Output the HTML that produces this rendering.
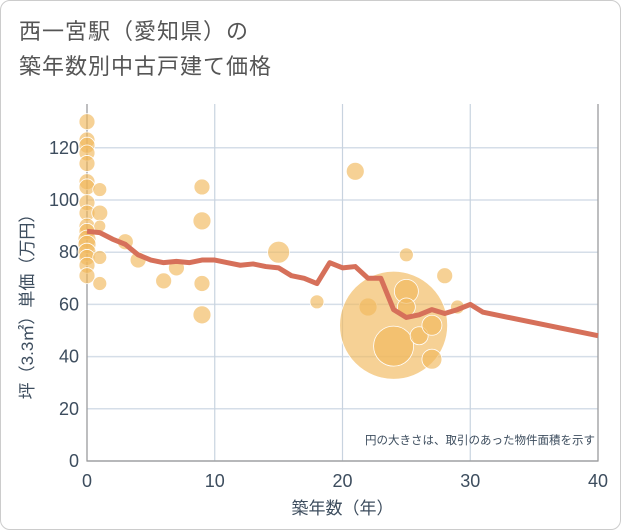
<!DOCTYPE html>
<html><head><meta charset="utf-8"><style>
body{margin:0;background:#fff;font-family:"Liberation Sans","Noto Sans CJK JP",sans-serif}
#wrap{position:relative;width:619px;height:528px;border:1px solid #ccc;border-radius:10px;overflow:hidden}
.title{position:absolute;left:18px;top:13px;font-size:22px;line-height:35px;color:#555;letter-spacing:1px}
</style></head><body>
<div id="wrap">
<div class="title">西一宮駅（愛知県）の<br>築年数別中古戸建て価格</div>
<svg id="chart" width="621" height="530" style="position:absolute;left:0;top:0"></svg>
</div>
<script>
const xTicks=[0,10,20,30,40];
const yTicks=[0,20,40,60,80,100,120];
const lineYears=[0,1,2,3,4,5,6,7,8,9,10,11,12,13,14,15,16,17,18,19,20,21,22,23,24,25,26,27,28,29,30,31,40];
const lineValues=[88,87.5,85,83,79,77,76,76.5,76,77,77,76,75,75.5,74.5,74,71,70,68,76,74,74.5,70,70,58,55,56,58,56.5,58,60,57,48];
const bubbleYears=[0,0,0,0,0,0,0,0,0,0,0,0,0,0,0,0,0,1,1,1,1,1,3,4,6,7,9,9,9,9,15,18,21,22,24,24,25,25,25,26,27,27,28,29];
const bubbleValues=[130,123,121,118,114,107,105,99,95,90,88,85,83,80,78,75,71,104,95,90,78,68,84,77,69,74,105,92,68,56,80,61,111,59,52,44,79,65,59,48,52,39,71,59];
const bubbleRadii=[8,8,8,8,8,8,8,8,8,8,8,9,9,9,8,8,8,7,8,6,7,7,8,8,8,8,8,9,8,9,11,7,9,9,54,20,7,12,9,9,10,10,8,7];
const NS='http://www.w3.org/2000/svg';
const svg=document.getElementById('chart');
const X0=86,X1=597,Y0=460,YT=103;
const xs=v=>X0+(v-0)/(40-0)*(X1-X0);
const ys=v=>Y0-v*2.61;
function mk(t,a){const e=document.createElementNS(NS,t);for(const k in a)e.setAttribute(k,a[k]);svg.appendChild(e);return e;}
const bg=mk('rect',{x:X0,y:YT,width:X1-X0,height:Y0-YT,fill:'#fff'});


yTicks.forEach(v=>{
 const g=mk('line',{x1:X0,x2:X1,y1:ys(v),y2:ys(v),stroke:'#d5dee8','stroke-width':1.5});
 
 
 const t=mk('text',{x:X0-8,y:ys(v)+6,'text-anchor':'end','font-size':18,fill:'#3d4d5e'});
 t.textContent=v;
 
 
});
xTicks.forEach(v=>{
 const g=mk('line',{x1:xs(v),x2:xs(v),y1:YT,y2:Y0,stroke:'#c8d3df','stroke-width':1.2});
 
 
 const t=mk('text',{x:xs(v),y:Y0+26,'text-anchor':'middle','font-size':18,fill:'#3d4d5e'});
 t.textContent=v;
 
 
});
const ax=mk('path',{d:`M${X0},${YT}V${Y0}H${X1}V${YT}`,fill:'none',stroke:'#999','stroke-width':1.2});


bubbleYears.forEach((yr,i)=>{
 const c=mk('circle',{cx:xs(yr),cy:ys(bubbleValues[i]),r:bubbleRadii[i],fill:'rgba(241,184,92,0.65)',stroke:'#fff','stroke-width':0.8});
 
 
});
const p=mk('polyline',{points:lineYears.map((y,i)=>xs(y)+','+ys(lineValues[i])).join(' '),fill:'none',stroke:'#d6705a','stroke-width':5,'stroke-linejoin':'round'});


const note=mk('text',{x:594,y:443,'text-anchor':'end','font-size':11.5,fill:'#3d4d5e'});
note.textContent='円の大きさは、取引のあった物件面積を示す';


const xt=mk('text',{x:(X0+X1)/2,y:513,'text-anchor':'middle','font-size':17,fill:'#3d4d5e'});
xt.textContent='築年数（年）';


const yt=mk('text',{x:0,y:0,'text-anchor':'middle','font-size':17,fill:'#3d4d5e',transform:`translate(32,${(YT+Y0)/2+20}) rotate(-90)`});
yt.textContent='坪（3.3㎡）単価（万円）';


</script>
</body></html>
